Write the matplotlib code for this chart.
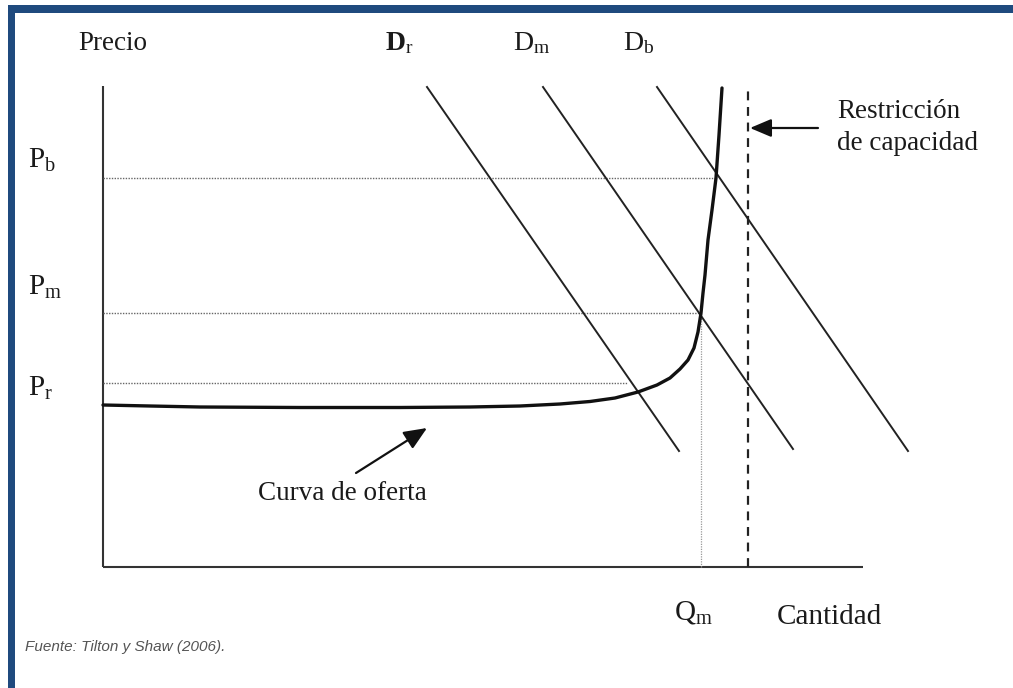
import matplotlib
matplotlib.use("Agg")
import matplotlib.pyplot as plt
from matplotlib.patches import Rectangle

plt.rcParams['mathtext.fontset'] = 'custom'
plt.rcParams['mathtext.rm'] = 'Liberation Serif'
plt.rcParams['mathtext.bf'] = 'Liberation Serif:bold'
plt.rcParams['mathtext.it'] = 'Liberation Serif:italic'

# ---- data (quantity / price units) ----
supply_q = [0, 4.7, 9.7, 19.7, 29.7, 36.7, 41.7, 45.7, 48.7, 51.2, 53.5, 55.4, 56.7,
            57.7, 58.5, 59.1, 59.5, 59.8, 60.0, 60.2, 60.5, 60.9, 61.3, 61.6, 61.9]
supply_p = [16.2, 16.1, 16.0, 15.95, 15.95, 16.0, 16.1, 16.3, 16.55, 16.9, 17.5, 18.2, 18.9,
            19.8, 20.7, 21.9, 23.5, 25.4, 27.4, 29.2, 32.7, 35.7, 38.9, 43.2, 47.9]

demand_names = ['D_r', 'D_m', 'D_b']
demand_q = [[32.4, 57.6], [44.0, 69.0], [55.4, 80.5]]
demand_p = [[48.0, 11.6], [48.0, 11.8], [48.0, 11.6]]

price_levels = [38.9, 25.4, 18.4]          # Pb, Pm, Pr
price_level_q_end = [61.3, 59.8, 52.5]
price_labels = [r'$\mathrm{P_b}$', r'$\mathrm{P_m}$', r'$\mathrm{P_r}$']

q_m = 59.8
p_m = 25.4
q_cap = 64.5
q_axis_max = 76.0
p_axis_max = 48.1

ink = '#1a1a1a'
serif = ['Liberation Serif', 'DejaVu Serif']

W, H = 1013, 688
fig = plt.figure(figsize=(W / 100, H / 100), dpi=100)
ax = fig.add_axes([0, 0, 1, 1])
# pixel mapping: x = 103 + 10 q ; y = 567 - 10 p
ax.set_xlim(-10.3, (W - 103) / 10)
ax.set_ylim((567 - H) / 10, 567 / 10)
ax.axis('off')

# border (blue frame, top and left)
fig.add_artist(Rectangle((8 / W, 1 - 13 / H), 1 - 8 / W, 8 / H, transform=fig.transFigure,
                         color='#1f4a7e', lw=0))
fig.add_artist(Rectangle((8 / W, 0), 7 / W, 1 - 5 / H, transform=fig.transFigure,
                         color='#1f4a7e', lw=0))

# axes lines
ax.plot([0, 0], [0, p_axis_max], color='#333333', lw=1.5, solid_capstyle='butt')
ax.plot([0, q_axis_max], [0, 0], color='#333333', lw=1.5, solid_capstyle='butt')

# dotted price levels
for p, qe in zip(price_levels, price_level_q_end):
    ax.plot([0, qe], [p, p], color='#666666', lw=1.0, linestyle=(0, (1, 1)))
# Qm vertical dotted
ax.plot([q_m, q_m], [0, p_m], color='#999999', lw=0.9, linestyle=(0, (1, 1)))
# capacity dashed
ax.plot([q_cap, q_cap], [0, 48.2], color='#222222', lw=1.6, linestyle=(0, (4, 3)))

# demand lines
for dq, dp in zip(demand_q, demand_p):
    ax.plot(dq, dp, color='#222222', lw=1.4)

# supply curve
ax.plot(supply_q, supply_p, color='#111111', lw=2.4, solid_capstyle='round',
        solid_joinstyle='round')

# labels
ax.text(-2.5, 51.7, 'Precio', fontsize=19.5, family=serif, color=ink, va='baseline', ha='left')
ax.text(67.4, -5.7, 'Cantidad', fontsize=21, family=serif, color=ink, va='baseline', ha='left')
ax.text(57.1, -5.3, r'$\mathrm{Q_m}$', fontsize=21, color=ink, va='baseline', ha='left')

for lab, base in zip(price_labels, [39.9, 27.2, 17.1]):
    ax.text(-7.5, base, lab, fontsize=21, color=ink, va='baseline', ha='left')

d_label_q = [28.2, 41.0, 52.0]
d_texts = [r'$\mathbf{D}_\mathrm{r}$', r'$\mathrm{D_m}$', r'$\mathrm{D_b}$']
for q, t in zip(d_label_q, d_texts):
    ax.text(q, 51.7, t, fontsize=20, color=ink, va='baseline', ha='left')

ax.text(73.4, 44.9, 'Restricción', fontsize=19.5, family=serif, color=ink, va='baseline', ha='left')
ax.text(73.4, 41.7, 'de capacidad', fontsize=19.5, family=serif, color=ink, va='baseline', ha='left')
ax.annotate('', xy=(64.7, 43.9), xytext=(71.5, 43.9),
            arrowprops=dict(arrowstyle='-|>,head_length=1.3,head_width=0.55', color='#111111', lw=1.6,
                            shrinkA=0, shrinkB=0))

ax.text(15.5, 6.7, 'Curva de oferta', fontsize=19.5, family=serif, color=ink, va='baseline', ha='left')
ax.annotate('', xy=(32.4, 13.9), xytext=(25.3, 9.4),
            arrowprops=dict(arrowstyle='-|>,head_length=1.4,head_width=0.6', color='#111111', lw=1.6,
                            shrinkA=0, shrinkB=0))

ax.text(-7.8, -8.0, 'Fuente: Tilton y Shaw (2006).', fontsize=11,
        family=['Liberation Sans Narrow', 'Liberation Sans', 'DejaVu Sans'], style='italic',
        color='#555555', va='center', ha='left')

fig.savefig('out.png', dpi=100)
